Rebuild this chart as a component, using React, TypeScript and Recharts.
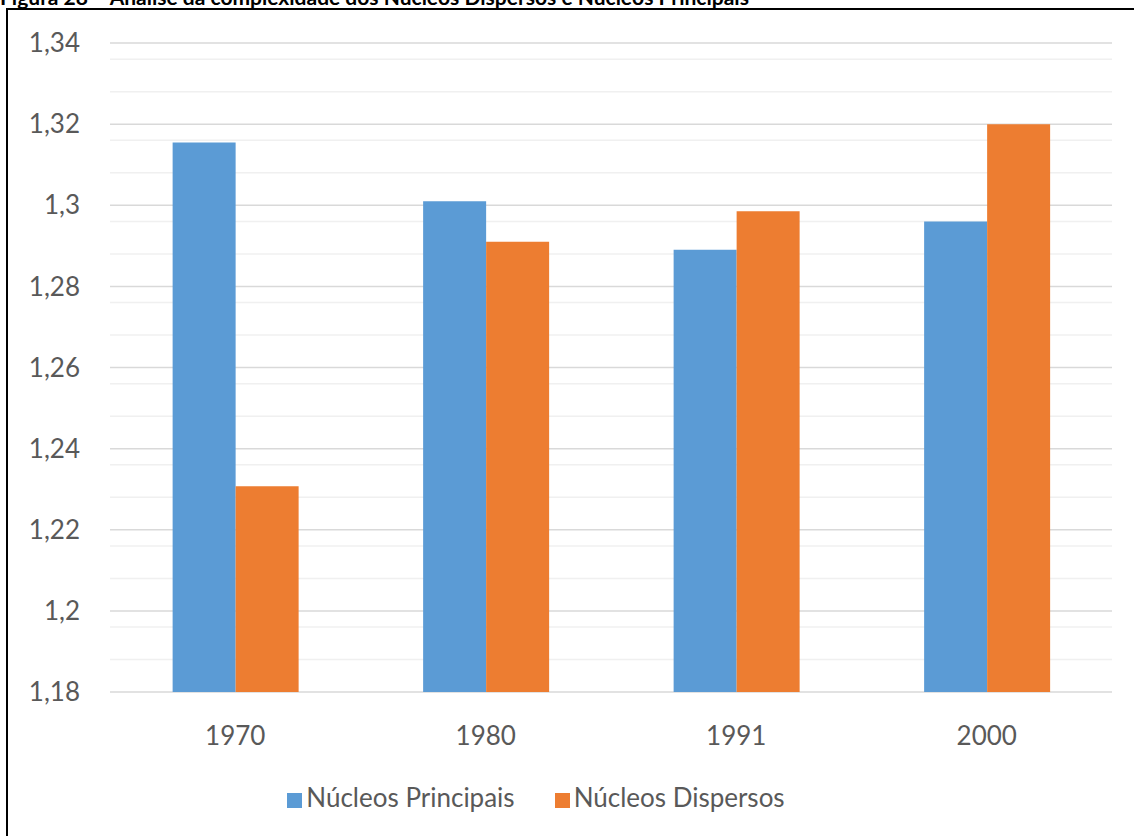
import { BarChart, Bar, XAxis, YAxis, CartesianGrid, Legend } from 'recharts'

const years = ['1970', '1980', '1991', '2000']
const principais = [1.3155, 1.301, 1.289, 1.296]
const dispersos = [1.2307, 1.291, 1.2985, 1.32]
const yTicks = [1.18, 1.2, 1.22, 1.24, 1.26, 1.28, 1.3, 1.32, 1.34]
const seriesOrder = ['principais', 'dispersos']

const data = years.map((year, i) => ({
  year,
  principais: principais[i],
  dispersos: dispersos[i],
}))

// minor gridlines: 4 between each pair of majors
const minorTicks: number[] = []
yTicks.slice(0, -1).forEach((t) => {
  for (let k = 1; k < 5; k++) minorTicks.push(Math.round((t + k * 0.004) * 1000) / 1000)
})

const fmt = (v: number) => String(v).replace('.', ',')
const font = 'Lato, "Open Sans", sans-serif'

export default function App() {
  return (
    <div style={{ position: 'fixed', left: 0, top: 0, width: 1134, height: 836, overflow: 'hidden', background: '#fff' }}>
      <div
        style={{
          position: 'absolute', left: 0, top: -14, fontFamily: font, fontWeight: 700,
          fontSize: 21, lineHeight: '21px', color: '#000', whiteSpace: 'nowrap',
        }}
      >
        Figura 28 – Análise da complexidade dos Núcleos Dispersos e Núcleos Principais
      </div>
      <div style={{ position: 'absolute', left: 6, top: 8, width: 1150, height: 850, border: '2px solid #000' }} />
      <div style={{ position: 'absolute', left: 0, top: 0 }}>
        <BarChart
          width={1134}
          height={836}
          data={data}
          margin={{ top: 43, right: 22, left: 0, bottom: 1 }}
          barCategoryGap="25%"
          barGap={0}
          style={{ fontFamily: font }}
        >
          <CartesianGrid vertical={false} horizontalValues={minorTicks} stroke="#f0f0f0" strokeWidth={1.5} />
          <CartesianGrid vertical={false} horizontalValues={yTicks} stroke="#d9d9d9" strokeWidth={1.5} />
          <XAxis
            dataKey="year"
            axisLine={false}
            tickLine={false}
            tickSize={0}
            tickMargin={35}
            height={89}
            tick={{ fill: '#595959', fontSize: 26 }}
          />
          <YAxis
            domain={[1.18, 1.34]}
            ticks={yTicks}
            allowDataOverflow
            axisLine={false}
            tickLine={false}
            tickSize={0}
            tickMargin={30}
            width={110}
            tickFormatter={fmt}
            tick={{ fill: '#595959', fontSize: 26 }}
          />
          <Legend
            verticalAlign="bottom"
            iconType="square"
            iconSize={15}
            height={54}
            itemSorter={(item: any) => seriesOrder.indexOf(item.dataKey)}
            wrapperStyle={{ fontSize: 26, color: '#595959' }}
            formatter={(value) => <span style={{ color: '#595959', marginRight: 30 }}>{value}</span>}
          />
          <Bar dataKey="principais" name="Núcleos Principais" fill="#5B9BD5" isAnimationActive={false} />
          <Bar dataKey="dispersos" name="Núcleos Dispersos" fill="#ED7D31" isAnimationActive={false} />
        </BarChart>
      </div>
    </div>
  )
}
